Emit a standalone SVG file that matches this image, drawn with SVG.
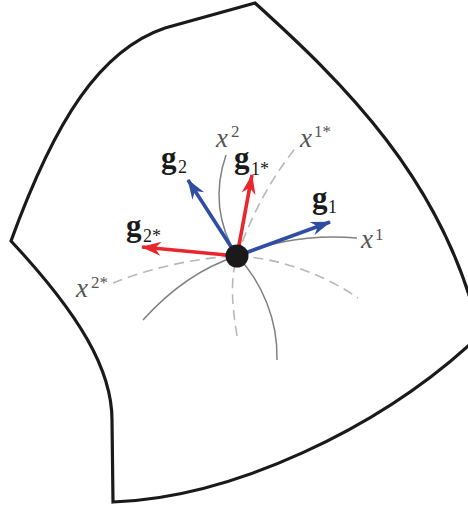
<svg xmlns="http://www.w3.org/2000/svg" width="468" height="511" viewBox="0 0 468 511">
  <style>
    .outline { fill: none; stroke: #1a1a1a; stroke-width: 3.2; stroke-linejoin: miter; }
    .coord { fill: none; stroke: #808080; stroke-width: 1.5; }
    .dual { fill: none; stroke: #b8b8b8; stroke-width: 1.6; stroke-dasharray: 10 6; }
    .blue { stroke: #2f4ea3; stroke-width: 3.6; fill: none; }
    .red { stroke: #e8262b; stroke-width: 3.6; fill: none; }
    .xl { font-style: italic; fill: #555555; font-size: 27px; }
    .sup { fill: #555555; font-size: 17px; }
    .gl { font-weight: bold; fill: #1a1a1a; font-size: 31px; }
    .sub { fill: #1a1a1a; font-size: 18px; }
  </style>
  <defs>
    <marker id="headBlue" viewBox="-20 -8 22 16" refX="0" refY="0" markerWidth="22" markerHeight="16" markerUnits="userSpaceOnUse" orient="auto">
      <path d="M1,0 L-19,-7 L-13,0 L-19,7 Z" fill="#2f4ea3"/>
    </marker>
    <marker id="headRed" viewBox="-20 -8 22 16" refX="0" refY="0" markerWidth="22" markerHeight="16" markerUnits="userSpaceOnUse" orient="auto">
      <path d="M1,0 L-19,-7 L-13,0 L-19,7 Z" fill="#e8262b"/>
    </marker>
  </defs>

  <g id="region">
    <path class="outline" d="M255,3 C340,80 445,180 480,335 C380,430 230,498 113,502 L112,420 C112,370 80,315 11,241 C55,120 100,50 165,28 Z"/>
  </g>

  <g id="connectors">
    <path class="coord" d="M226,155 C214,190 218,225 237,256 C262,282 278,320 277,360"/>
    <path class="coord" d="M143,320 C170,290 200,268 237,256 C270,242 310,234 357,238"/>
    <path class="dual" d="M237,336 C232,305 230,280 237,256 C247,228 265,185 298,145"/>
    <path class="dual" d="M113,283 C150,268 195,258 237,256 C280,258 325,275 358,298"/>
    <line class="blue" x1="237" y1="256" x2="330" y2="222" marker-end="url(#headBlue)"/>
    <line class="blue" x1="237" y1="256" x2="188" y2="180" marker-end="url(#headBlue)"/>
    <line class="red" x1="237" y1="256" x2="252" y2="175" marker-end="url(#headRed)"/>
    <line class="red" x1="237" y1="256" x2="142" y2="247" marker-end="url(#headRed)"/>
  </g>

  <g id="point">
    <circle cx="237" cy="256" r="11.5" fill="#1a1a1a"/>
  </g>

  <g id="labels" font-family="'Liberation Serif', 'Times New Roman', 'DejaVu Serif', serif">
    <g id="label-x2">
      <text class="xl" x="216" y="147">x</text>
      <text class="sup" x="231" y="137">2</text>
    </g>
    <g id="label-x1star">
      <text class="xl" x="300" y="147">x</text>
      <text class="sup" x="314" y="137">1*</text>
    </g>
    <g id="label-x1">
      <text class="xl" x="361" y="248">x</text>
      <text class="sup" x="375" y="240">1</text>
    </g>
    <g id="label-x2star">
      <text class="xl" x="76" y="297">x</text>
      <text class="sup" x="91" y="288">2*</text>
    </g>
    <g id="label-g2">
      <text class="gl" x="161" y="168">g</text>
      <text class="sub" x="178" y="173">2</text>
    </g>
    <g id="label-g1star">
      <text class="gl" x="234" y="168">g</text>
      <text class="sub" x="251" y="175">1*</text>
    </g>
    <g id="label-g1">
      <text class="gl" x="312" y="208">g</text>
      <text class="sub" x="328" y="213">1</text>
    </g>
    <g id="label-g2star">
      <text class="gl" x="126" y="236">g</text>
      <text class="sub" x="143" y="242">2*</text>
    </g>
  </g>
</svg>
